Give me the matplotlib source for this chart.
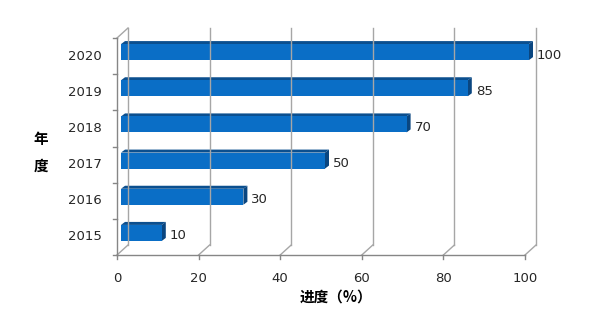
import matplotlib
matplotlib.use('Agg')
import matplotlib.pyplot as plt
from matplotlib.patches import Polygon, Rectangle

plt.rcParams['font.family'] = ['DejaVu Sans', 'Noto Sans CJK SC']

# data
years = ['2015', '2016', '2017', '2018', '2019', '2020']
progress = [10, 30, 50, 70, 85, 100]
x_ticks = [0, 20, 40, 60, 80, 100]

W, H = 611, 322
fig = plt.figure(figsize=(W / 100, H / 100), dpi=100)

# front axis box in pixels (from top-left)
left_px, right_px, top_px, bottom_px = 117, 525, 38, 255
ax = fig.add_axes([left_px / W, 1 - bottom_px / H,
                   (right_px - left_px) / W, (bottom_px - top_px) / H])
n = len(years)
ax.set_xlim(0, 100)
ax.set_ylim(0, n)
ax.axis('off')

# pixel -> data unit helpers
px_x = 100 / (right_px - left_px)
px_y = n / (bottom_px - top_px)

wall_dx, wall_dy = 11 * px_x, 10 * px_y   # depth of back wall
grid_c = '#a6a6a6'
axis_c = '#868686'
txt_c = '#262626'
fs = 9.5

# back wall gridlines + floor diagonals
for v in x_ticks:
    ax.plot([v + wall_dx, v + wall_dx], [wall_dy, n + wall_dy], color=grid_c, lw=1.0, clip_on=False)
    ax.plot([v, v + wall_dx], [0, wall_dy], color=grid_c, lw=1.0, clip_on=False)
    ax.plot([v, v], [0, -4 * px_y], color=axis_c, lw=1.0, clip_on=False)
    ax.text(v, -23 * px_y, str(v), ha='center', va='center', fontsize=fs, color=txt_c)

# left wall
ax.plot([0, 0], [0, n], color=axis_c, lw=1.0, clip_on=False)
ax.plot([0, wall_dx], [n, n + wall_dy], color=grid_c, lw=1.0, clip_on=False)
for i in range(n + 1):
    ax.plot([0, -4 * px_x], [i, i], color=axis_c, lw=1.0, clip_on=False)
# bottom axis
ax.plot([0, 100], [0, 0], color=axis_c, lw=1.0, clip_on=False)

# bars with a little 3D look
bar_dx, bar_dy = 4 * px_x, 4 * px_y      # offset of front face
d_dx, d_dy = 4 * px_x, 3 * px_y          # bar depth
bar_h = 16 * px_y
front_c, top_c, side_c = '#0a6ec6', '#0b4f8f', '#0a4680'

for i, (yr, v) in enumerate(zip(years, progress)):
    c = i + 0.5
    y0 = c - bar_h / 2 + bar_dy
    y1 = c + bar_h / 2 + bar_dy
    x0 = bar_dx
    x1 = bar_dx + v
    ax.add_patch(Polygon([(x0, y1), (x1, y1), (x1 + d_dx, y1 + d_dy), (x0 + d_dx, y1 + d_dy)],
                         closed=True, fc=top_c, ec='none', clip_on=False))
    ax.add_patch(Polygon([(x1, y0), (x1 + d_dx, y0 + d_dy), (x1 + d_dx, y1 + d_dy), (x1, y1)],
                         closed=True, fc=side_c, ec='none', clip_on=False))
    ax.add_patch(Rectangle((x0, y0), v, bar_h, fc=front_c, ec='none', clip_on=False))
    ax.text(x1 + d_dx + 4 * px_x, c + 1 * px_y, str(v), ha='left', va='center',
            fontsize=fs, color=txt_c)
    ax.text(-15 * px_x, c, yr, ha='right', va='center', fontsize=fs, color=txt_c)

# axis titles
cjk = ['Noto Sans CJK SC', 'DejaVu Sans']
ax.text((336 - left_px) * px_x, (bottom_px - 297) * px_y, '进度（%）', ha='center', va='center',
        fontsize=10.5, fontweight='bold', family=cjk)
ax.text(-(left_px - 41) * px_x, (bottom_px - 139) * px_y, '年', ha='center', va='center',
        fontsize=10.5, fontweight='bold', family=cjk)
ax.text(-(left_px - 41) * px_x, (bottom_px - 166) * px_y, '度', ha='center', va='center',
        fontsize=10.5, fontweight='bold', family=cjk)

fig.savefig('out.png', dpi=100)
